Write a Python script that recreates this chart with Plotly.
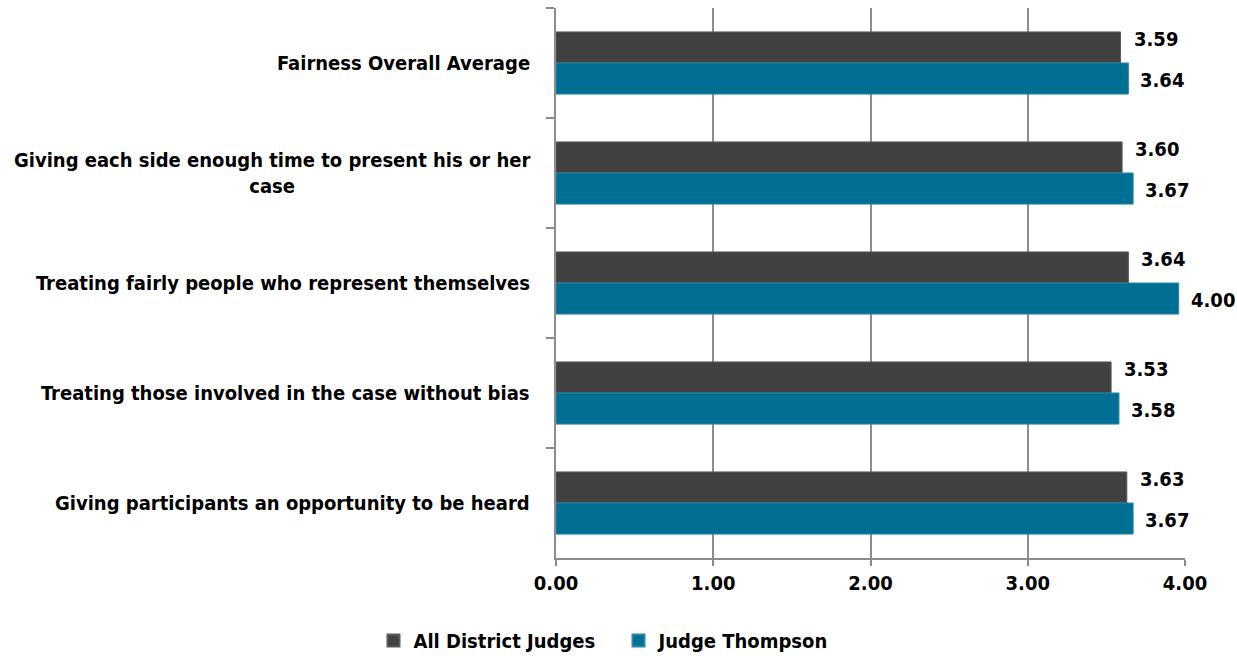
import plotly.graph_objects as go

categories = [
    "Fairness Overall Average",
    "Giving each side enough time to present his or her<br>case",
    "Treating fairly people who represent themselves",
    "Treating those involved in the case without bias",
    "Giving participants an opportunity to be heard",
]
all_district = [3.59, 3.60, 3.64, 3.53, 3.63]
judge_thompson = [3.64, 3.67, 3.96, 3.58, 3.67]
all_district_labels = ["3.59", "3.60", "3.64", "3.53", "3.63"]
judge_thompson_labels = ["3.64", "3.67", "4.00", "3.58", "3.67"]
x_ticks = [0, 1, 2, 3, 4]
x_tick_labels = ["0.00", "1.00", "2.00", "3.00", "4.00"]

FONT = "Liberation Sans Narrow, Arial Narrow, DejaVu Sans Condensed, sans-serif"
DARK = "#414141"
TEAL = "#006F94"

fig = go.Figure()
fig.add_trace(go.Bar(y=categories, x=all_district, orientation="h", name="<b>All District Judges</b>",
                     marker=dict(color=DARK, line=dict(color="#5a5a5a", width=1))))
fig.add_trace(go.Bar(y=categories, x=judge_thompson, orientation="h", name="<b>Judge Thompson</b>",
                     marker=dict(color=TEAL, line=dict(color="#2a86a6", width=1))))

ann = []
for c, v, t in zip(categories, all_district, all_district_labels):
    ann.append(dict(x=v, y=c, xref="x", yref="y", text="<b>%s</b>" % t, showarrow=False,
                    xanchor="left", yanchor="middle", xshift=12, yshift=24,
                    bgcolor="white", borderpad=0,
                    font=dict(family=FONT, size=20, color="black")))
for c, v, t in zip(categories, judge_thompson, judge_thompson_labels):
    ann.append(dict(x=v, y=c, xref="x", yref="y", text="<b>%s</b>" % t, showarrow=False,
                    xanchor="left", yanchor="middle", xshift=11, yshift=-17,
                    bgcolor="white", borderpad=0,
                    font=dict(family=FONT, size=20, color="black")))
for c in categories:
    ann.append(dict(x=0, y=c, xref="paper", yref="y", text="<b>%s</b>" % c, showarrow=False,
                    xanchor="right", yanchor="middle", xshift=-24, align="center",
                    font=dict(family=FONT, size=20, color="black")))

fig.update_layout(
    width=1237, height=660,
    margin=dict(l=556, r=52, t=8, b=102),
    paper_bgcolor="white", plot_bgcolor="white",
    barmode="group", bargap=0.435, bargroupgap=0,
    font=dict(family=FONT, size=20, color="black"),
    annotations=ann,
    showlegend=True,
    legend=dict(orientation="h", xref="container", yref="container", x=0.5, xanchor="center",
                y=0.0, yanchor="bottom", font=dict(family=FONT, size=20, color="black"),
                itemsizing="constant", tracegroupgap=0, entrywidth=200, entrywidthmode="pixels"),
    xaxis=dict(range=[0, 4], tickvals=x_ticks, ticktext=["<b>%s</b>" % t for t in x_tick_labels],
               showgrid=True, gridcolor="#8c8c8c", gridwidth=1.5, zeroline=False,
               showline=True, linecolor="#8c8c8c", linewidth=1.5,
               ticks="outside", ticklen=6, tickcolor="#8c8c8c", tickwidth=1.5,
               tickfont=dict(family=FONT, size=20, color="black")),
    yaxis=dict(autorange="reversed", showticklabels=False, showline=True, linecolor="#8c8c8c",
               linewidth=1.5, ticks="outside", tickson="boundaries", ticklen=8,
               tickcolor="#8c8c8c", tickwidth=1.5, showgrid=False),
)
fig.write_html("out.html", config={"displayModeBar": False},
               post_script="document.body.style.margin='0';document.body.style.overflow='hidden';")
